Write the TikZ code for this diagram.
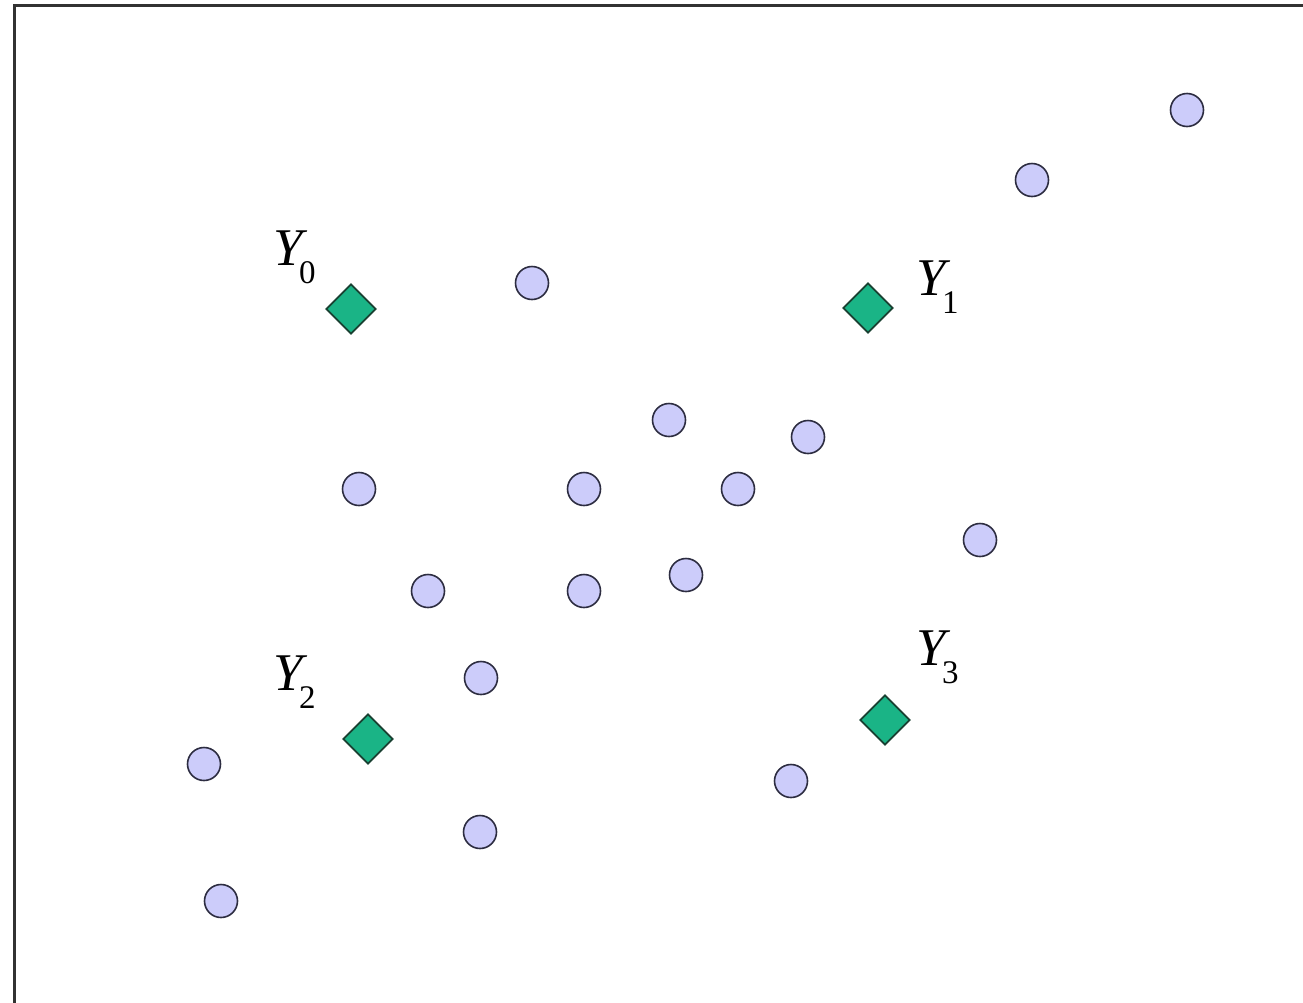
\documentclass[tikz,border=0pt]{standalone}
\usepackage{fontspec}
\setmainfont{Liberation Serif}
\usetikzlibrary{shapes.geometric}
\definecolor{ptfill}{RGB}{204,204,250}
\definecolor{ptline}{RGB}{45,45,65}
\definecolor{dmfill}{RGB}{26,180,134}
\definecolor{dmline}{RGB}{25,65,50}
\definecolor{frame}{RGB}{50,50,50}
\newcommand{\ylab}[1]{{\fontsize{53}{53}\selectfont\itshape Y}\kern-3.5pt\raisebox{-18pt}{\fontsize{33}{33}\selectfont #1}}
\tikzset{
  pt/.style={circle,draw=ptline,fill=ptfill,line width=1.6pt,minimum size=33pt,inner sep=0pt},
  ctr/.style={diamond,draw=dmline,fill=dmfill,line width=1.8pt,minimum size=50pt,inner sep=0pt},
  lab/.style={anchor=base west,inner sep=0pt}
}
\begin{document}
\begin{tikzpicture}[x=1pt,y=-1pt]
\useasboundingbox (0,0) rectangle (1303,1002);
\clip (0,0) rectangle (1303,1002);
\fill[white] (0,0) rectangle (1303,1002);
\draw[frame,line width=3pt] (14,1010) -- (14,5) -- (1310,5);
% data points
\node[pt] (p1) at (1187,110) {};
\node[pt] (p2) at (1032,180) {};
\node[pt] (p3) at (532,283) {};
\node[pt] (p4) at (669,420) {};
\node[pt] (p5) at (808,437) {};
\node[pt] (p6) at (359,489) {};
\node[pt] (p7) at (584,489) {};
\node[pt] (p8) at (738,489) {};
\node[pt] (p9) at (980,540) {};
\node[pt] (p10) at (428,591) {};
\node[pt] (p11) at (584,591) {};
\node[pt] (p12) at (686,575) {};
\node[pt] (p13) at (481,678) {};
\node[pt] (p14) at (204,764) {};
\node[pt] (p15) at (791,781) {};
\node[pt] (p16) at (480,832) {};
\node[pt] (p17) at (221,901) {};
% centroids
\node[ctr] (c0) at (351,309) {};
\node[ctr] (c1) at (868,308) {};
\node[ctr] (c2) at (368,739) {};
\node[ctr] (c3) at (885,720) {};
% labels
\node[lab] (l0) at (273,265) {\ylab{0}};
\node[lab] (l1) at (916,295) {\ylab{1}};
\node[lab] (l2) at (273,690) {\ylab{2}};
\node[lab] (l3) at (916,665) {\ylab{3}};
\end{tikzpicture}
\end{document}
